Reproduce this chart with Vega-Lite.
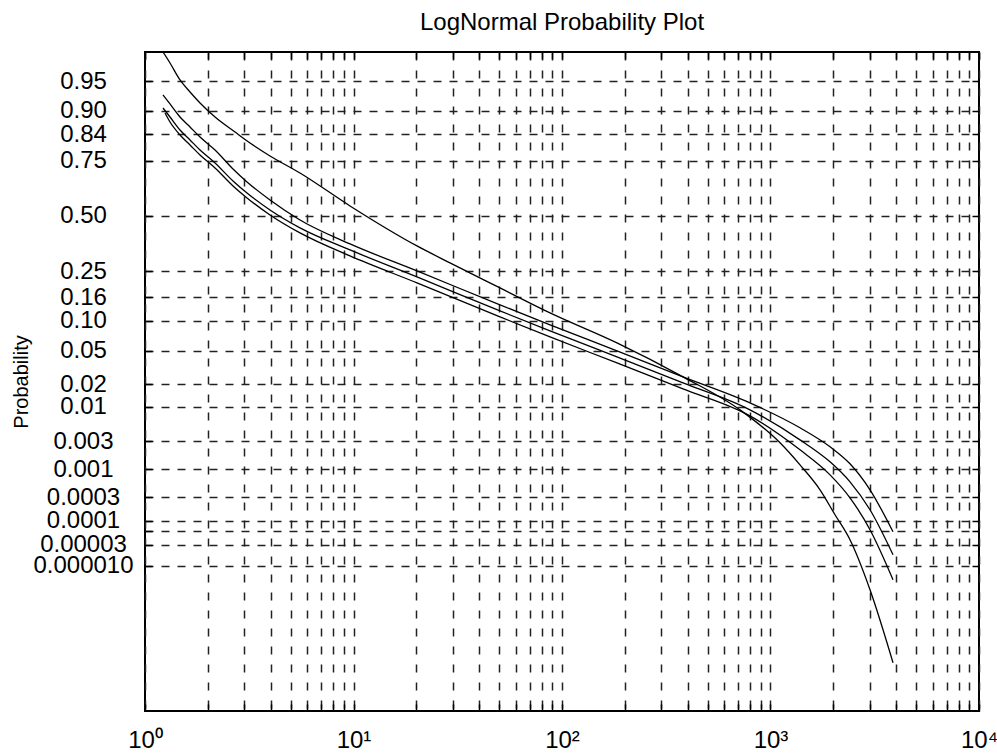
{
  "$schema": "https://vega.github.io/schema/vega-lite/v6.json",
  "width": 834,
  "height": 659,
  "autosize": {"type": "none"},
  "padding": {"left": 145, "top": 52, "right": 18, "bottom": 42},
  "background": "white",
  "title": {"text": "LogNormal  Probability Plot", "font": "Liberation Sans", "fontSize": 24, "fontWeight": "normal", "color": "black", "anchor": "middle", "offset": 14},
  "config": {
    "view": {"stroke": "black", "strokeWidth": 2},
    "axis": {"labelFont": "Liberation Sans", "titleFont": "Liberation Sans", "labelColor": "black", "titleColor": "black", "domain": false, "labelOverlap": false, "labelFlush": false}
  },
  "data": {"values": [
    {"s":"A","x":1.22,"z":2.0},{"s":"A","x":1.318,"z":1.866},{"s":"A","x":1.472,"z":1.659},{"s":"A","x":1.644,"z":1.512},{"s":"A","x":1.836,"z":1.378},{"s":"A","x":2.167,"z":1.207},{"s":"A","x":2.702,"z":1.024},{"s":"A","x":3.189,"z":0.89},{"s":"A","x":3.977,"z":0.732},{"s":"A","x":5.539,"z":0.524},{"s":"A","x":9.621,"z":0.122},{"s":"A","x":20.16,"z":-0.366},{"s":"A","x":29.02,"z":-0.573},{"s":"A","x":50.42,"z":-0.878},{"s":"A","x":87.6,"z":-1.183},{"s":"A","x":183.5,"z":-1.549},{"s":"A","x":380.5,"z":-1.963},{"s":"A","x":714,"z":-2.366},{"s":"A","x":1111,"z":-2.768},{"s":"A","x":1385,"z":-3.037},{"s":"A","x":1728,"z":-3.341},{"s":"A","x":2039,"z":-3.646},{"s":"A","x":2406,"z":-3.951},{"s":"A","x":3001,"z":-4.561},{"s":"A","x":3869,"z":-5.451},
    {"s":"B","x":1.22,"z":1.476},{"s":"B","x":1.318,"z":1.366},{"s":"B","x":1.472,"z":1.207},{"s":"B","x":1.644,"z":1.085},{"s":"B","x":1.836,"z":0.963},{"s":"B","x":2.167,"z":0.805},{"s":"B","x":2.643,"z":0.573},{"s":"B","x":3.085,"z":0.415},{"s":"B","x":3.977,"z":0.195},{"s":"B","x":5.539,"z":-0.049},{"s":"B","x":9.621,"z":-0.341},{"s":"B","x":20.16,"z":-0.671},{"s":"B","x":50.42,"z":-1.085},{"s":"B","x":87.6,"z":-1.329},{"s":"B","x":183.5,"z":-1.646},{"s":"B","x":380.5,"z":-1.963},{"s":"B","x":797,"z":-2.28},{"s":"B","x":1385,"z":-2.585},{"s":"B","x":1930,"z":-2.817},{"s":"B","x":2406,"z":-3.024},{"s":"B","x":3001,"z":-3.341},{"s":"B","x":3869,"z":-3.854},
    {"s":"C","x":1.22,"z":1.317},{"s":"C","x":1.318,"z":1.207},{"s":"C","x":1.472,"z":1.049},{"s":"C","x":1.644,"z":0.927},{"s":"C","x":1.836,"z":0.805},{"s":"C","x":2.167,"z":0.646},{"s":"C","x":2.643,"z":0.427},{"s":"C","x":3.085,"z":0.28},{"s":"C","x":3.977,"z":0.073},{"s":"C","x":5.539,"z":-0.146},{"s":"C","x":9.621,"z":-0.415},{"s":"C","x":20.16,"z":-0.744},{"s":"C","x":50.42,"z":-1.159},{"s":"C","x":87.6,"z":-1.402},{"s":"C","x":183.5,"z":-1.72},{"s":"C","x":380.5,"z":-2.037},{"s":"C","x":797,"z":-2.366},{"s":"C","x":1385,"z":-2.732},{"s":"C","x":1930,"z":-3.0},{"s":"C","x":2406,"z":-3.244},{"s":"C","x":3001,"z":-3.585},{"s":"C","x":3869,"z":-4.134},
    {"s":"D","x":1.247,"z":1.256},{"s":"D","x":1.318,"z":1.146},{"s":"D","x":1.472,"z":0.988},{"s":"D","x":1.644,"z":0.866},{"s":"D","x":1.836,"z":0.744},{"s":"D","x":2.167,"z":0.585},{"s":"D","x":2.643,"z":0.366},{"s":"D","x":3.085,"z":0.22},{"s":"D","x":3.977,"z":0.012},{"s":"D","x":5.539,"z":-0.207},{"s":"D","x":9.621,"z":-0.488},{"s":"D","x":20.16,"z":-0.817},{"s":"D","x":50.42,"z":-1.232},{"s":"D","x":87.6,"z":-1.476},{"s":"D","x":183.5,"z":-1.793},{"s":"D","x":380.5,"z":-2.11},{"s":"D","x":797,"z":-2.439},{"s":"D","x":1385,"z":-2.854},{"s":"D","x":1930,"z":-3.159},{"s":"D","x":2406,"z":-3.439},{"s":"D","x":3001,"z":-3.829},{"s":"D","x":3869,"z":-4.439}
  ]},
  "layer": [
    {
      "mark": {"type": "line", "color": "black", "strokeWidth": 1.3, "clip": true, "interpolate": "monotone"},
      "encoding": {
        "x": {"field": "x", "type": "quantitative", "scale": {"type": "log", "domain": [1, 10000], "nice": false},
          "axis": {"orient": "bottom", "title": null,
            "values": [1,2,3,4,5,6,7,8,9,10,20,30,40,50,60,70,80,90,100,200,300,400,500,600,700,800,900,1000,2000,3000,4000,5000,6000,7000,8000,9000,10000],
            "labelExpr": "indexof([1,10,100,1000,10000], datum.value) >= 0 ? '10' + ['⁰','¹','²','³','⁴'][indexof([1,10,100,1000,10000], datum.value)] : ''",
            "labelFontSize": 24, "labelPadding": 24, "labelBaseline": "top",
            "ticks": true, "tickSize": -7, "tickColor": "black", "tickWidth": 1.5,
            "grid": true, "gridColor": "#222", "gridWidth": 1.5, "gridDash": [8, 10], "gridOpacity": 1}},
        "y": {"field": "z", "type": "quantitative", "scale": {"domain": [-6.04, 2.0], "nice": false, "zero": false},
          "axis": {"orient": "left", "title": "Probability", "titleFontSize": 20, "titleFontWeight": "normal", "titleX": -114, "titleY": 329.5, "titleAngle": -90, "titleAlign": "center", "titleBaseline": "bottom",
            "values": [1.6449, 1.2816, 0.9945, 0.6745, 0, -0.6745, -0.9945, -1.2816, -1.6449, -2.0537, -2.3263, -2.7478, -3.0902, -3.4316, -3.719, -3.85, -4.0128, -4.2649],
            "labelExpr": "['0.95','0.90','0.84','0.75','0.50','0.25','0.16','0.10','0.05','0.02','0.01','0.003','0.001','0.0003','0.0001','','0.00003','0.000010'][indexof([1.6449, 1.2816, 0.9945, 0.6745, 0, -0.6745, -0.9945, -1.2816, -1.6449, -2.0537, -2.3263, -2.7478, -3.0902, -3.4316, -3.719, -3.85, -4.0128, -4.2649], datum.value)]",
            "labelFontSize": 24, "labelAlign": "center", "labelBaseline": "middle", "labelPadding": 69,
            "ticks": true, "tickSize": -7, "tickColor": "black", "tickWidth": 1.5,
            "grid": true, "gridColor": "#222", "gridWidth": 1.5, "gridDash": [8, 8], "gridOpacity": 1}},
        "detail": {"field": "s"}
      }
    },
    {
      "mark": {"type": "point", "opacity": 0},
      "encoding": {
        "x": {"field": "x", "type": "quantitative", "scale": {"type": "log", "domain": [1, 10000], "nice": false},
          "axis": {"orient": "top", "title": null, "labels": false, "grid": false,
            "values": [1,2,3,4,5,6,7,8,9,10,20,30,40,50,60,70,80,90,100,200,300,400,500,600,700,800,900,1000,2000,3000,4000,5000,6000,7000,8000,9000,10000],
            "ticks": true, "tickSize": -7, "tickColor": "black", "tickWidth": 1.5}},
        "y": {"field": "z", "type": "quantitative", "scale": {"domain": [-6.04, 2.0], "nice": false, "zero": false},
          "axis": {"orient": "right", "title": null, "labels": false, "grid": false,
            "values": [1.6449, 1.2816, 0.9945, 0.6745, 0, -0.6745, -0.9945, -1.2816, -1.6449, -2.0537, -2.3263, -2.7478, -3.0902, -3.4316, -3.719, -3.85, -4.0128, -4.2649],
            "ticks": true, "tickSize": -7, "tickColor": "black", "tickWidth": 1.5}}
      }
    }
  ],
  "resolve": {"axis": {"x": "independent", "y": "independent"}}
}
